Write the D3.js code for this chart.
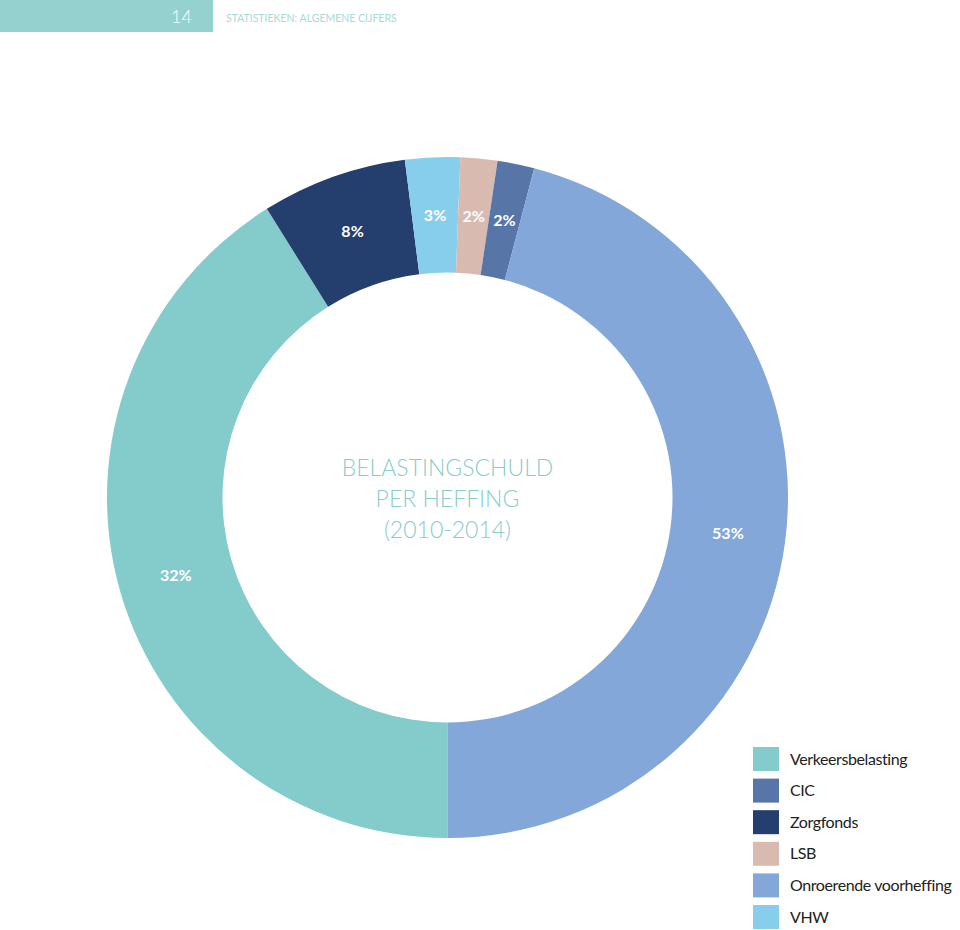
<!DOCTYPE html>
<html>
<head>
<meta charset="utf-8">
<script src="https://cdn.jsdelivr.net/npm/d3@7"></script>
<style>
  html, body { margin: 0; padding: 0; background: #ffffff; }
  svg { display: block; }
</style>
</head>
<body>
<svg id="chart" width="960" height="930"></svg>
<script>
// Data (slice order clockwise from the bottom)
const categories = ["Verkeersbelasting", "Zorgfonds", "VHW", "LSB", "CIC", "Onroerende voorheffing"];
const values = [41.1, 6.9, 2.6, 1.75, 1.75, 45.9];
const labels = ["32%", "8%", "3%", "2%", "2%", "53%"];
const colors = ["#84cbcc", "#243e6e", "#86ceeb", "#d9bab1", "#5775a7", "#84a7d9"];
const legendOrder = ["Verkeersbelasting", "CIC", "Zorgfonds", "LSB", "Onroerende voorheffing", "VHW"];
const titleLines = ["BELASTINGSCHULD", "PER HEFFING", "(2010-2014)"];
const pageNumber = "14";
const headerText = "STATISTIEKEN: ALGEMENE CIJFERS";

const svg = d3.select("#chart");

// Header
svg.append("rect").attr("x", 0).attr("y", 0).attr("width", 213).attr("height", 32).attr("fill", "#94d1cf");
svg.append("text").attr("x", 192).attr("y", 23).attr("text-anchor", "end")
  .attr("font-family", "Lato, sans-serif").attr("font-weight", 300).attr("font-size", 18)
  .attr("fill", "#ffffff").text(pageNumber);
svg.append("text").attr("x", 226).attr("y", 22)
  .attr("font-family", "Lato, sans-serif").attr("font-weight", 400).attr("font-size", 10.5)
  .attr("fill", "#a6dad8").text(headerText);

// Donut
const cx = 447.5, cy = 497.5, rOuter = 340.5, rInner = 225;
const color = d3.scaleOrdinal().domain(categories).range(colors);
const pie = d3.pie().sort(null).value(d => d.value).startAngle(Math.PI).endAngle(3 * Math.PI);
const data = categories.map((c, i) => ({ name: c, value: values[i], label: labels[i] }));
const arcs = pie(data);
const arc = d3.arc().innerRadius(rInner).outerRadius(rOuter);
const labelArc = d3.arc().innerRadius((rInner + rOuter) / 2).outerRadius((rInner + rOuter) / 2);

const g = svg.append("g").attr("transform", `translate(${cx},${cy})`);
g.selectAll("path.slice").data(arcs).join("path")
  .attr("class", "slice")
  .attr("d", arc)
  .attr("fill", d => color(d.data.name));

g.selectAll("text.lbl").data(arcs).join("text")
  .attr("class", "lbl")
  .attr("transform", d => { const [x, y] = labelArc.centroid(d); return `translate(${x},${y})`; })
  .attr("text-anchor", "middle")
  .attr("dy", "0.35em")
  .attr("font-family", "Lato, sans-serif").attr("font-weight", 700).attr("font-size", 16)
  .attr("fill", "#ffffff")
  .text(d => d.data.label);

// Title in centre
svg.append("g").selectAll("text").data(titleLines).join("text")
  .attr("x", cx)
  .attr("y", (d, i) => 476 + i * 31)
  .attr("text-anchor", "middle")
  .attr("font-family", "Lato, sans-serif").attr("font-weight", 300).attr("font-size", 23)
  .attr("fill", "#88cdc9")
  .text(d => d);

// Legend
const legend = svg.append("g").attr("transform", "translate(753,747)");
const rows = legend.selectAll("g").data(legendOrder).join("g")
  .attr("transform", (d, i) => `translate(0,${i * 31.6})`);
rows.append("rect").attr("width", 26).attr("height", 24).attr("fill", d => color(d));
rows.append("text").attr("x", 37).attr("y", 12).attr("dy", "0.35em")
  .attr("font-family", "Lato, sans-serif").attr("font-size", 16).attr("letter-spacing", -0.4)
  .attr("fill", "#222222")
  .text(d => d);
</script>
</body>
</html>
